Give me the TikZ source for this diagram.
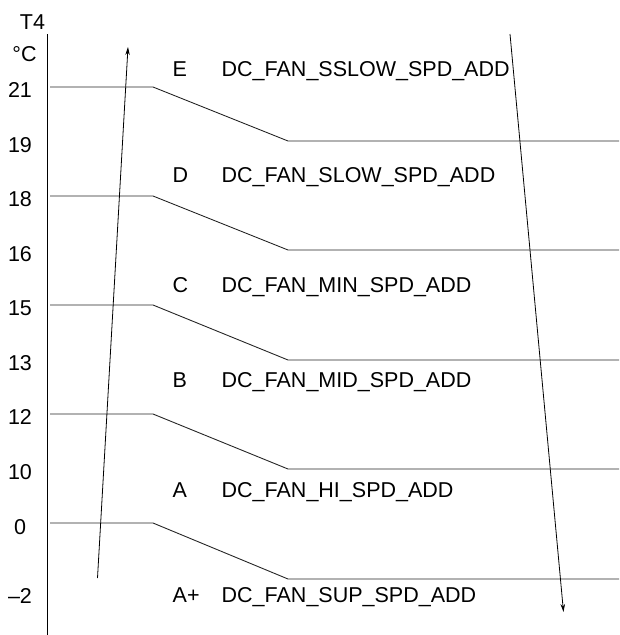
\documentclass[tikz,border=0pt]{standalone}
\usepackage{fontspec}
\setmainfont{Liberation Sans}
\usetikzlibrary{arrows.meta}

\begin{document}
\begin{tikzpicture}[
      x=1pt, y=-1pt,
      every node/.style={inner sep=0pt, font=\fontsize{21.5}{25}\selectfont},
      tick/.style={anchor=base},
      zone/.style={anchor=base west},
      level/.style={line width=0.9pt, black!85},
      axisline/.style={line width=0.9pt},
      trend/.style={-{Stealth[length=8pt,width=4.5pt]}, line width=0.8pt}
    ]
      \useasboundingbox (0,0) rectangle (619,635);

      % axis and its labels
      \coordinate (ax_top) at (47,34);
      \coordinate (ax_bot) at (47,635);
      \draw[axisline] (ax_top) -- (ax_bot);
      \node[tick] (t_name) at (32.5,29) {T4};
      \node[tick] (t_unit) at (24.5,61) {°C};
      \node[tick] (t_21) at (20,97) {21};
      \node[tick] (t_19) at (20,152) {19};
      \node[tick] (t_18) at (20,206) {18};
      \node[tick] (t_16) at (20,261) {16};
      \node[tick] (t_15) at (20,315) {15};
      \node[tick] (t_13) at (20,370) {13};
      \node[tick] (t_12) at (20,424) {12};
      \node[tick] (t_10) at (20,479) {10};
      \node[tick] (t_0) at (20,534) {0};
      \node[tick] (t_m2) at (20,603) {–2};

      % switching levels
      \coordinate (e_hi) at (50,87);   \coordinate (e_k1) at (153,87);
      \coordinate (e_k2) at (288,141); \coordinate (e_lo) at (619,141);
      \coordinate (d_hi) at (50,196);  \coordinate (d_k1) at (153,196);
      \coordinate (d_k2) at (288,250); \coordinate (d_lo) at (619,250);
      \coordinate (c_hi) at (50,305);  \coordinate (c_k1) at (153,305);
      \coordinate (c_k2) at (288,360); \coordinate (c_lo) at (619,360);
      \coordinate (b_hi) at (50,414);  \coordinate (b_k1) at (153,414);
      \coordinate (b_k2) at (288,469); \coordinate (b_lo) at (619,469);
      \coordinate (a_hi) at (50,523);  \coordinate (a_k1) at (153,523);
      \coordinate (a_k2) at (288,579); \coordinate (a_lo) at (619,579);
      \draw[level] (e_hi) -- (e_k1) -- (e_k2) -- (e_lo);
      \draw[level] (d_hi) -- (d_k1) -- (d_k2) -- (d_lo);
      \draw[level] (c_hi) -- (c_k1) -- (c_k2) -- (c_lo);
      \draw[level] (b_hi) -- (b_k1) -- (b_k2) -- (b_lo);
      \draw[level] (a_hi) -- (a_k1) -- (a_k2) -- (a_lo);

      % zone names
      \node[zone] (z_e) at (172.5,76) {E};
      \node[zone] (z_d) at (172.5,182) {D};
      \node[zone] (z_c) at (172.5,292) {C};
      \node[zone] (z_b) at (172.5,387) {B};
      \node[zone] (z_a) at (172.5,497) {A};
      \node[zone] (z_ap) at (172.5,602) {A+};
      \node[zone] (s_e) at (221.5,76) {DC\_FAN\_SSLOW\_SPD\_ADD};
      \node[zone] (s_d) at (221.5,182) {DC\_FAN\_SLOW\_SPD\_ADD};
      \node[zone] (s_c) at (221.5,292) {DC\_FAN\_MIN\_SPD\_ADD};
      \node[zone] (s_b) at (221.5,387) {DC\_FAN\_MID\_SPD\_ADD};
      \node[zone] (s_a) at (221.5,497) {DC\_FAN\_HI\_SPD\_ADD};
      \node[zone] (s_ap) at (221.5,602) {DC\_FAN\_SUP\_SPD\_ADD};

      % rising and falling T4
      \coordinate (up_s) at (97.5,578);
      \coordinate (up_e) at (128,47);
      \coordinate (dn_s) at (510,34);
      \coordinate (dn_e) at (563.5,612);
      \draw[trend] (up_s) -- (up_e);
      \draw[trend] (dn_s) -- (dn_e);
    \end{tikzpicture}
\end{document}
